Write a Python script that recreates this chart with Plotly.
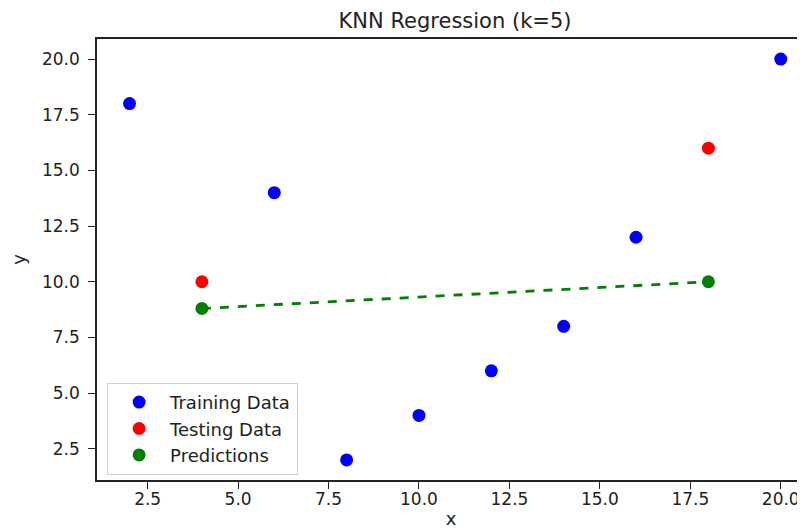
import plotly.graph_objects as go

train_x = [2, 6, 8, 10, 12, 14, 16, 20]
train_y = [18, 14, 2, 4, 6, 8, 12, 20]
test_x = [4, 18]
test_y = [10, 16]
pred_y = [8.8, 10]

x_ticks = [2.5, 5.0, 7.5, 10.0, 12.5, 15.0, 17.5, 20.0]
y_ticks = [2.5, 5.0, 7.5, 10.0, 12.5, 15.0, 17.5, 20.0]

FONT = "DejaVu Sans"
OFF = 8  # default page body margin

W, H = 805 - OFF, 531 - OFF

fig = go.Figure()
fig.add_trace(go.Scatter(x=train_x, y=train_y, mode="markers", name="Training Data",
                         marker=dict(color="#0000ff", size=13)))
fig.add_trace(go.Scatter(x=test_x, y=test_y, mode="markers", name="Testing Data",
                         marker=dict(color="#ff0000", size=13)))
fig.add_trace(go.Scatter(x=test_x, y=pred_y, mode="lines", showlegend=False,
                         line=dict(color="#008000", width=2.8, dash="dash")))
fig.add_trace(go.Scatter(x=test_x, y=pred_y, mode="markers", name="Predictions",
                         marker=dict(color="#008000", size=13)))

axis_common = dict(
    showgrid=False, zeroline=False, showline=True, linecolor="#222222", linewidth=1.5,
    ticks="outside", ticklen=7, tickwidth=1.2, tickcolor="#222222", automargin=False,
    tickfont=dict(family=FONT, size=17, color="#222222"),
)

fig.update_layout(
    width=W, height=H,
    margin=dict(l=97 - OFF, r=0, t=39 - OFF, b=51),
    paper_bgcolor="white", plot_bgcolor="white",
    title=dict(text="KNN Regression (k=5)", x=(455 - OFF) / W, xref="container", xanchor="center",
               y=1 - (21 - OFF) / H, yref="container", yanchor="middle",
               font=dict(family=FONT, size=21, color="#222222")),
    xaxis=dict(range=[1.1, 20.67], tickvals=x_ticks, ticktext=[f"{v:.1f}" for v in x_ticks],
               mirror=True, ticklabelstandoff=-4,
               title=dict(text="x", standoff=4, font=dict(family=FONT, size=18, color="#222222")),
               **axis_common),
    yaxis=dict(range=[1.1, 20.9], tickvals=y_ticks, ticktext=[f"{v:.1f}" for v in y_ticks],
               mirror=False, ticklabelstandoff=5,
               title=dict(text="y", standoff=22, font=dict(family=FONT, size=18, color="#222222")),
               **axis_common),
    legend=dict(x=0.014, y=0.012, xanchor="left", yanchor="bottom",
                bgcolor="white", bordercolor="#d0d0d0", borderwidth=1.2,
                font=dict(family=FONT, size=18, color="#222222"),
                itemwidth=52, tracegroupgap=0),
    showlegend=True,
)

fig.write_html("out.html")
